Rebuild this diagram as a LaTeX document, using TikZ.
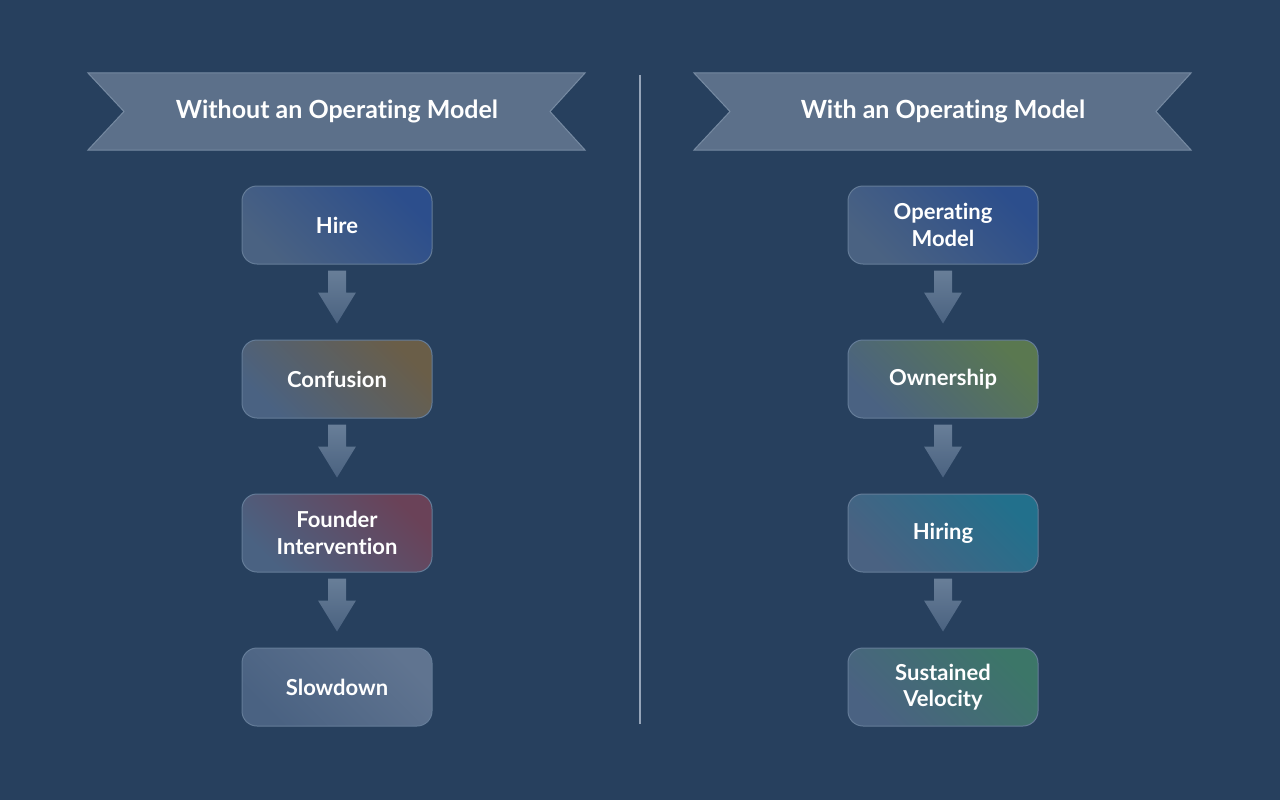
\documentclass[tikz,border=0pt]{standalone}
\usepackage{fontspec}
\setmainfont{Lato}[Ligatures={NoCommon}]
\usetikzlibrary{calc}
\definecolor{bg}{RGB}{39,64,94}
\definecolor{bannerfill}{RGB}{92,112,138}
\definecolor{bannerline}{RGB}{118,138,162}
\definecolor{divider}{RGB}{150,165,185}
\definecolor{boxbase}{RGB}{74,98,130}
\definecolor{boxline}{RGB}{100,124,152}
\definecolor{arrtop}{RGB}{104,126,152}
\definecolor{arrbot}{RGB}{74,98,128}
\definecolor{cHire}{RGB}{44,78,140}
\definecolor{cConf}{RGB}{106,94,72}
\definecolor{cFound}{RGB}{106,66,88}
\definecolor{cSlow}{RGB}{96,116,144}
\definecolor{cOp}{RGB}{44,78,140}
\definecolor{cOwn}{RGB}{90,120,80}
\definecolor{cHiring}{RGB}{34,112,140}
\definecolor{cSust}{RGB}{60,118,104}
\tikzset{
  x=1pt, y=-1pt,
  flowbox/.style={draw=boxline, line width=1pt, rounded corners=15pt,
    minimum width=190pt, minimum height=78pt, text=white,
    font=\fontsize{22}{26.5}\selectfont\bfseries, align=center,
    left color=boxbase, right color=#1, shading angle=135},
  banner/.style={fill=bannerfill, draw=bannerline, line width=1pt},
  bannertext/.style={text=white, font=\fontsize{25}{30}\selectfont\bfseries},
  arrowfill/.style={top color=arrtop, bottom color=arrbot, draw=none}
}
\newcommand\flowarrow[2]{%
  \shade[arrowfill] ($(#1.south)+(-9,6)$) -- ($(#1.south)+(9,6)$) --
    ($(#1.south)+(9,28)$) -- ($(#1.south)+(19,28)$) --
    ($(#2.north)+(0,-16)$) --
    ($(#1.south)+(-19,28)$) -- ($(#1.south)+(-9,28)$) -- cycle;}
\begin{document}
\begin{tikzpicture}
\fill[bg] (0,0) rectangle (1280,800);
\useasboundingbox (0,0) rectangle (1280,800);
% banners
\draw[banner] (88,73) -- (585,73) -- (550,111.5) -- (585,150) -- (88,150) -- (124,111.5) -- cycle;
\node[bannertext] (tl) at (337,111) {Without an Operating Model};
\draw[banner] (694,73) -- (1191,73) -- (1156,111.5) -- (1191,150) -- (694,150) -- (730,111.5) -- cycle;
\node[bannertext] (tr) at (943,111) {With an Operating Model};
% divider
\coordinate (d1) at (640,75);
\coordinate (d2) at (640,724);
\draw[divider, line width=1.2pt] (d1) -- (d2);
% left column
\node[flowbox=cHire] (hire) at (337,225) {Hire};
\node[flowbox=cConf] (conf) at (337,379) {Confusion};
\node[flowbox=cFound] (found) at (337,533) {Founder\\Intervention};
\node[flowbox=cSlow] (slow) at (337,687) {Slowdown};
\flowarrow{hire}{conf}
\flowarrow{conf}{found}
\flowarrow{found}{slow}
% right column
\node[flowbox=cOp] (op) at (943,225) {Operating\\Model};
\node[flowbox=cOwn] (own) at (943,379) {Ownership};
\node[flowbox=cHiring] (hiring) at (943,533) {Hiring};
\node[flowbox=cSust] (sust) at (943,687) {Sustained\\Velocity};
\flowarrow{op}{own}
\flowarrow{own}{hiring}
\flowarrow{hiring}{sust}
\end{tikzpicture}
\end{document}
